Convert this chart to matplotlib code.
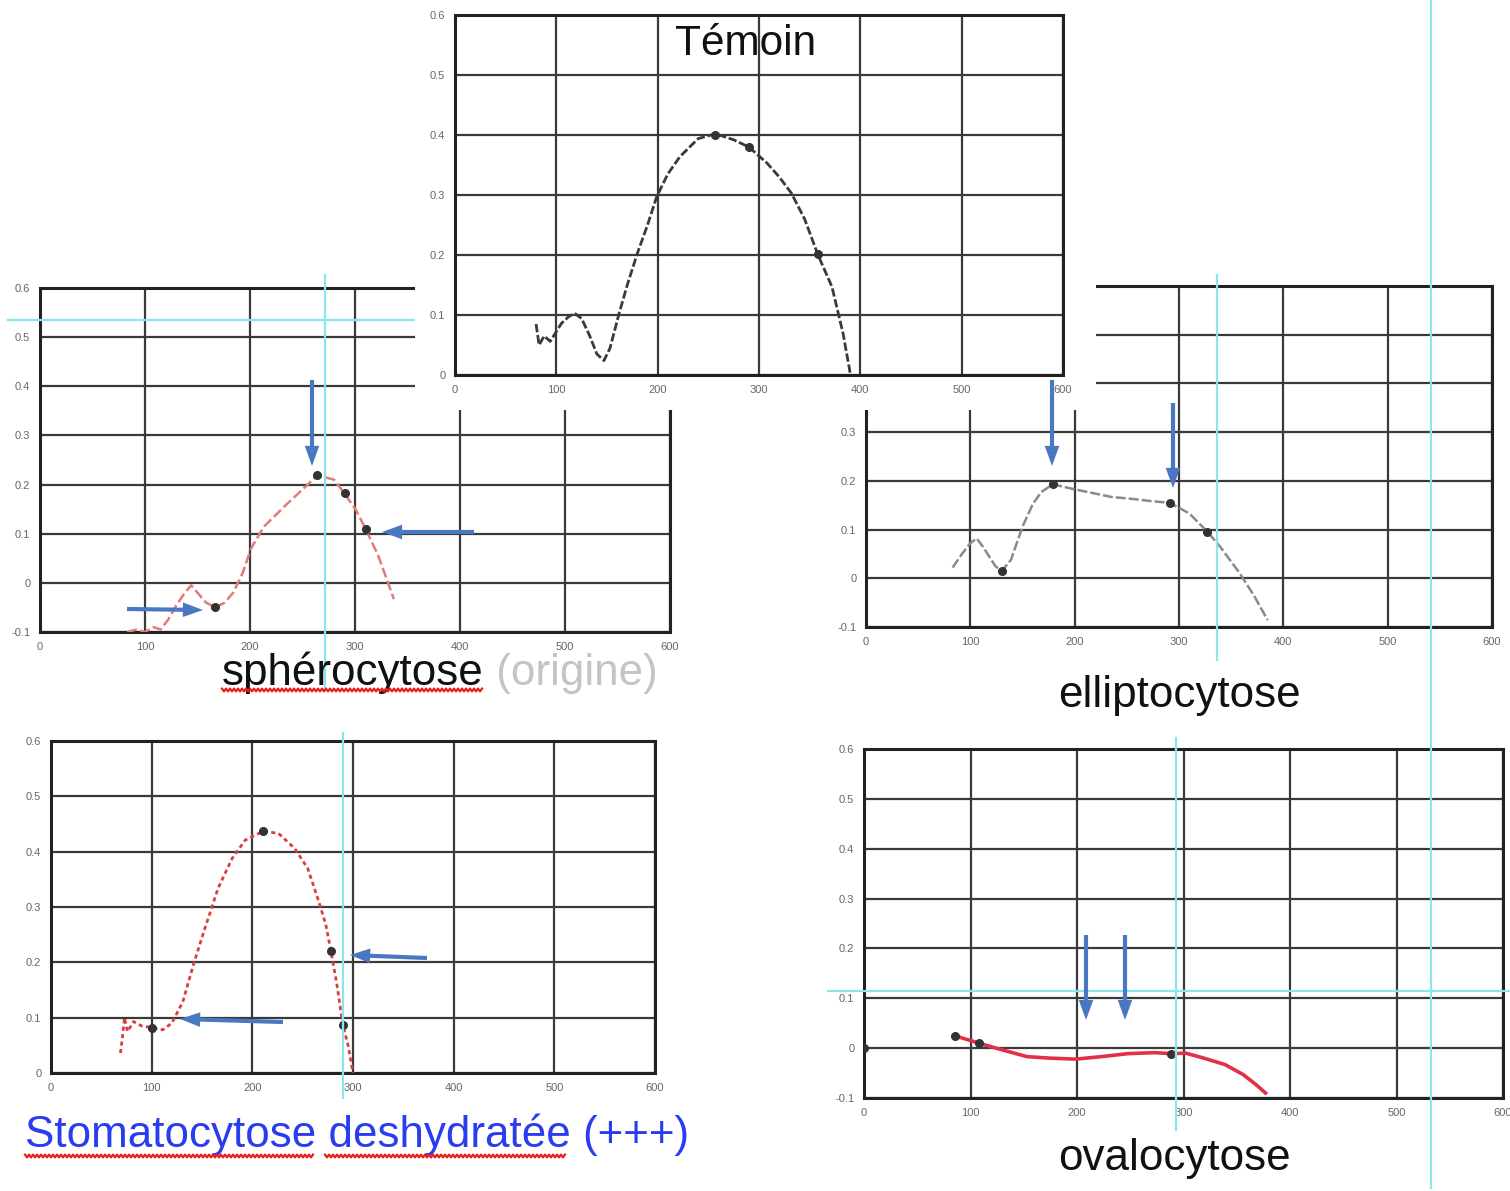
import numpy as np
import matplotlib
matplotlib.use("Agg")
import matplotlib.pyplot as plt
from matplotlib.patches import Rectangle, FancyArrowPatch, ArrowStyle
from matplotlib.lines import Line2D

W, H = 1510, 1191
plt.rcParams['font.family'] = ['Liberation Sans', 'DejaVu Sans']

# ---------------- data ----------------
x_ticks = [0, 100, 200, 300, 400, 500, 600]
x_ticklabels = ["0", "100", "200", "300", "400", "500", "600"]
y_ticks_pos = [0, 0.1, 0.2, 0.3, 0.4, 0.5, 0.6]
y_ticks_neg = [-0.1, 0, 0.1, 0.2, 0.3, 0.4, 0.5, 0.6]

temoin_x = [80, 83, 88, 94, 105, 112, 118, 125, 133, 140, 147, 153, 162, 170, 180, 190,
            199, 210, 222, 240, 257, 275, 290, 308, 320, 332, 345, 358, 372, 383, 390]
temoin_y = [0.085, 0.05, 0.065, 0.056, 0.086, 0.097, 0.103, 0.094, 0.065, 0.035, 0.024,
            0.045, 0.103, 0.15, 0.203, 0.25, 0.297, 0.335, 0.364, 0.394, 0.402, 0.392,
            0.38, 0.353, 0.33, 0.303, 0.26, 0.201, 0.147, 0.069, 0.003]
temoin_mx = [257, 290, 358]
temoin_my = [0.40, 0.38, 0.201]

sphero_x = [83, 92, 100, 108, 115, 122, 130, 138, 144, 150, 158, 167, 176, 184, 193, 201,
            213, 234, 255, 264, 280, 290, 301, 310, 322, 337]
sphero_y = [-0.1, -0.095, -0.1, -0.09, -0.095, -0.075, -0.045, -0.02, -0.005, -0.02, -0.04,
            -0.05, -0.04, -0.02, 0.02, 0.07, 0.114, 0.158, 0.2, 0.219, 0.21, 0.182, 0.148,
            0.11, 0.056, -0.033]
sphero_mx = [167, 264, 290, 310]
sphero_my = [-0.05, 0.219, 0.182, 0.11]

ellipto_x = [83, 92, 100, 106, 112, 118, 124, 130, 139, 150, 160, 168, 179, 197, 215, 235,
             255, 275, 291, 310, 327, 339, 358, 372, 385]
ellipto_y = [0.022, 0.05, 0.072, 0.082, 0.065, 0.045, 0.025, 0.015, 0.038, 0.106, 0.153,
             0.177, 0.193, 0.184, 0.176, 0.167, 0.163, 0.158, 0.155, 0.133, 0.096, 0.066,
             0.011, -0.036, -0.086]
ellipto_mx = [130, 179, 291, 327]
ellipto_my = [0.015, 0.193, 0.155, 0.096]

stomato_x = [69, 71, 73, 76, 82, 90, 100, 111, 120, 131, 142, 153, 166, 180, 193, 211, 226,
             242, 255, 266, 273, 278, 284, 290, 295, 300]
stomato_y = [0.036, 0.065, 0.1, 0.075, 0.093, 0.085, 0.082, 0.078, 0.09, 0.129, 0.199, 0.262,
             0.334, 0.388, 0.421, 0.437, 0.433, 0.406, 0.37, 0.31, 0.268, 0.221, 0.16,
             0.086, 0.051, 0.0]
stomato_mx = [100, 211, 278, 290]
stomato_my = [0.082, 0.437, 0.221, 0.086]

ovalo_x = [85, 108, 124, 141, 153, 174, 199, 223, 248, 273, 288, 302, 319, 339, 356, 368, 377]
ovalo_y = [0.025, 0.01, 0.0, -0.01, -0.017, -0.02, -0.022, -0.017, -0.011, -0.009, -0.011,
           -0.01, -0.02, -0.033, -0.053, -0.073, -0.09]
ovalo_mx = [0, 85, 108, 288]
ovalo_my = [0.0, 0.025, 0.01, -0.011]

# ---------------- helpers ----------------
fig = plt.figure(figsize=(W / 100, H / 100), dpi=100)
fig.patch.set_facecolor("white")


def fx(x):
    return x / W


def fy(y):
    return 1 - y / H


def panel(l, t, r, b, ymin, yticks, z, hide_above=None):
    ax = fig.add_axes([fx(l), fy(b), (r - l) / W, (b - t) / H], zorder=z)
    ax.set_xlim(0, 600)
    ax.set_ylim(ymin, 0.6)
    ax.set_xticks(x_ticks)
    ax.set_xticklabels(x_ticklabels)
    ax.set_yticks(yticks)
    labels = []
    for v in yticks:
        if hide_above is not None and v > hide_above:
            labels.append("")
        else:
            labels.append("0" if abs(v) < 1e-9 else f"{v:.1f}")
    ax.set_yticklabels(labels)
    ax.grid(True, color="#3a3a3a", lw=1.6)
    ax.set_axisbelow(True)
    for s in ax.spines.values():
        s.set_linewidth(2.2)
        s.set_color("#222222")
    ax.tick_params(length=0, pad=7, labelsize=8, labelcolor="#666666")
    ax.set_facecolor("white")
    return ax


def curve(ax, xs, ys, mx, my, color, ls, lw):
    ax.plot(xs, ys, color=color, ls=ls, lw=lw, zorder=3)
    ax.plot(mx, my, "o", color="#333333", ms=5.5, zorder=4)


def fline(x0, y0, x1, y1, color="#8ae6ec", lw=1.6, z=1.5):
    fig.add_artist(Line2D([fx(x0), fx(x1)], [fy(y0), fy(y1)], color=color, lw=lw,
                          transform=fig.transFigure, zorder=z))


def arrow(x0, y0, x1, y1):
    st = ArrowStyle.Simple(head_length=1.45, head_width=1.05, tail_width=0.3)
    fig.add_artist(FancyArrowPatch((fx(x0), fy(y0)), (fx(x1), fy(y1)),
                                   transform=fig.transFigure, arrowstyle=st,
                                   mutation_scale=10, color="#4a78c0", lw=0,
                                   shrinkA=0, shrinkB=0, zorder=10))


def wavy(x0, x1, y):
    xs = np.arange(x0, x1, 2.0)
    ys = y + np.where((np.arange(len(xs)) % 2) == 0, -1.4, 1.4)
    fig.add_artist(Line2D(fx(xs), fy(ys), color="#e8221a", lw=1.6,
                          transform=fig.transFigure, zorder=12))


# ---------------- panels ----------------
ax_s = panel(40, 288, 670, 632, -0.1, y_ticks_neg, 1)
curve(ax_s, sphero_x, sphero_y, sphero_mx, sphero_my, "#e57a7a", (0, (4, 1.5)), 1.8)

ax_e = panel(866, 286, 1492, 627, -0.1, y_ticks_neg, 1, hide_above=0.35)
curve(ax_e, ellipto_x, ellipto_y, ellipto_mx, ellipto_my, "#8a8a8a", (0, (4, 1.2)), 1.8)

ax_st = panel(51, 741, 655, 1073, 0, y_ticks_pos, 1)
curve(ax_st, stomato_x, stomato_y, stomato_mx, stomato_my, "#d84040", (0, (1.5, 1.2)), 2.0)

ax_o = panel(864, 749, 1503, 1098, -0.1, y_ticks_neg, 1)
curve(ax_o, ovalo_x, ovalo_y, ovalo_mx, ovalo_my, "#e0304a", "-", 2.6)

# cyan guide lines under the Témoin cover
fline(325, 275, 325, 690)
fline(8, 320, 415, 320)
fline(1217, 275, 1217, 660)

# white cover behind the Témoin panel
fig.add_artist(Rectangle((fx(415), fy(410)), (1096 - 415) / W, 410 / H,
                         transform=fig.transFigure, facecolor="white",
                         edgecolor="none", zorder=2))

ax_t = panel(455, 15, 1063, 375, 0, y_ticks_pos, 3)
curve(ax_t, temoin_x, temoin_y, temoin_mx, temoin_my, "#3a3a3a", (0, (3, 1)), 2.0)

# cyan guide lines on top
fline(343, 733, 343, 1098, z=5)
fline(1176, 738, 1176, 1130, z=5)
fline(828, 991, 1510, 991, z=5)
fline(1431, 0, 1431, 1188, z=5)

# ---------------- labels ----------------
FS = 31.7
fig.text(fx(675), fy(55), "Témoin", fontsize=30.5, color="#111111", zorder=8)

t1 = fig.text(fx(222), fy(685), "sphérocytose", fontsize=FS, color="#111111", zorder=8)
fig.canvas.draw()
bb = t1.get_window_extent()
fig.text(bb.x1 / W, fy(685), " (origine)", fontsize=FS, color="#c4c4c4", zorder=8)
wavy(222, 484, 690)

fig.text(fx(1058), fy(707), "elliptocytose", fontsize=FS, color="#111111", zorder=8)

fig.text(fx(25), fy(1147), "Stomatocytose deshydratée (+++)", fontsize=FS,
         color="#2a3cf0", zorder=8)
wavy(25, 315, 1156)
wavy(325, 567, 1156)

fig.text(fx(1058), fy(1170), "ovalocytose", fontsize=FS, color="#111111", zorder=8)

# ---------------- arrows ----------------
arrow(312, 380, 312, 466)
arrow(474, 532, 382, 532)
arrow(127, 609, 203, 610)
arrow(1052, 380, 1052, 466)
arrow(1173, 403, 1173, 488)
arrow(427, 958, 350, 955)
arrow(283, 1022, 180, 1019)
arrow(1086, 935, 1086, 1020)
arrow(1125, 935, 1125, 1020)

fig.savefig("out.png", dpi=100)
